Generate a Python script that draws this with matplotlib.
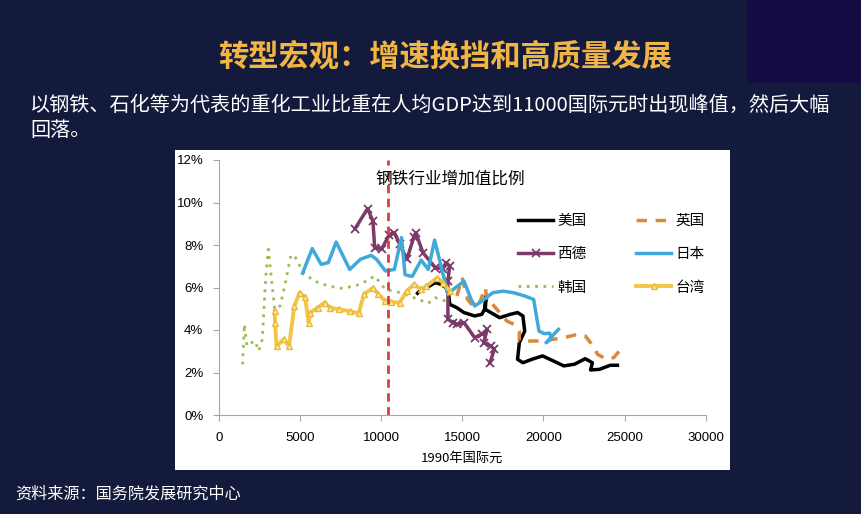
import matplotlib
matplotlib.use("Agg")
import matplotlib.pyplot as plt
from matplotlib.patches import Rectangle

plt.rcParams['font.family'] = ['Noto Sans CJK SC', 'DejaVu Sans']

# data (x: 1990 international dollars, y: share in %)
us_x = [12250, 12470, 12910, 13350, 13680, 14010, 14180, 14230, 14670, 15110, 15770, 16210,
        16430, 16470, 16380, 16760, 17310, 17970, 18410, 18740, 18850, 18520, 18410, 18740,
        19290, 19950, 20600, 21260, 21920, 22580, 23020, 22910, 23460, 24120, 24560]
us_y = [5.73, 5.91, 6.04, 6.23, 6.15, 5.99, 5.60, 5.21, 5.05, 4.82, 4.66, 4.74,
        5.05, 5.60, 4.99, 4.82, 4.58, 4.74, 4.82, 4.66, 3.95, 3.40, 2.62, 2.46,
        2.62, 2.78, 2.55, 2.31, 2.39, 2.65, 2.46, 2.12, 2.15, 2.34, 2.34]

uk_x = [14670, 15000, 15220, 15330, 15660, 15990, 16430, 16540, 16870, 17310, 17750, 18190,
        18520, 18520, 19070, 19950, 20600, 21260, 22140, 22580, 22910, 23350, 23900, 24340, 24670]
uk_y = [5.60, 6.46, 5.75, 5.44, 5.13, 5.13, 5.99, 5.29, 5.21, 4.82, 4.42, 4.27,
        3.95, 3.48, 3.48, 3.48, 3.56, 3.64, 3.80, 3.72, 3.40, 2.85, 2.62, 2.70, 3.01]

de_x = [8400, 9170, 9500, 9610, 10050, 10490, 10820, 11150, 11590, 12030, 12140, 12580,
        13350, 13790, 14010, 14230, 14120, 14120, 14450, 14670, 15110, 15770, 16210, 16540,
        16320, 16760, 16980, 16710]
de_y = [8.77, 9.71, 9.13, 7.87, 7.83, 8.45, 8.58, 8.03, 7.33, 8.39, 8.58, 7.64,
        6.93, 6.89, 7.17, 7.01, 6.31, 4.50, 4.35, 4.27, 4.35, 3.64, 3.80, 4.03,
        3.40, 3.25, 3.09, 2.46]

jp_x = [5168, 5761, 6311, 6751, 7235, 8070, 8730, 9390, 9720, 10270, 10820, 11260, 11480,
        11920, 12470, 12910, 13300, 13680, 14120, 14450, 15110, 15550, 15770, 16210, 16870,
        17530, 18190, 18850, 19400, 19730, 20050, 20390, 20490, 20170, 20930]
jp_y = [6.67, 7.83, 7.09, 7.17, 8.14, 6.85, 7.33, 7.51, 7.33, 6.78, 6.85, 8.35, 6.60,
        6.52, 7.29, 6.85, 8.23, 7.07, 5.68, 5.91, 6.30, 5.44, 5.13, 5.36, 5.75,
        5.83, 5.75, 5.60, 5.44, 3.95, 3.83, 3.85, 3.60, 3.40, 4.03]

kr_x = [1473, 1583, 1737, 2023, 2243, 2463, 2683, 2903, 3057, 3232, 3452, 3782, 4112, 4442,
        4662, 5212, 5871, 6751, 7631, 8730, 9610, 10270, 11150, 12030, 12910, 13350, 14230]
kr_y = [2.38, 4.27, 3.25, 3.40, 3.48, 3.01, 3.56, 6.54, 7.80, 6.54, 4.97, 5.13, 6.23, 7.51,
        7.51, 6.70, 6.31, 6.07, 5.95, 6.15, 6.54, 5.91, 5.76, 5.52, 5.26, 5.52, 5.29]

tw_x = [3452, 3470, 3562, 4002, 4332, 4662, 4992, 5322, 5542, 5652, 6091, 6531, 6861, 7411,
        8070, 8620, 8950, 9500, 9830, 10270, 10600, 11150, 11590, 12030, 12470, 12800,
        13460, 13790, 14230]
tw_y = [4.89, 4.35, 3.25, 3.56, 3.25, 5.13, 5.76, 5.53, 4.35, 4.82, 5.05, 5.29, 5.05, 4.97,
        4.89, 4.78, 5.68, 5.99, 5.68, 5.36, 5.31, 5.29, 5.84, 6.15, 5.92, 6.07,
        6.46, 6.23, 5.84]

peak_x = 10450
x_ticks = [0, 5000, 10000, 15000, 20000, 25000, 30000]
y_ticks = [0, 2, 4, 6, 8, 10, 12]

bg = '#131a3b'
fig = plt.figure(figsize=(8.61, 5.14), dpi=100, facecolor=bg)

# dark block top right and the white chart panel
fig.add_artist(Rectangle((747 / 861, 1 - 83 / 514), 114 / 861, 83 / 514,
                         transform=fig.transFigure, facecolor='#120c42', edgecolor='none', zorder=0))
fig.add_artist(Rectangle((174.5 / 861, 1 - 469.5 / 514), 555.5 / 861, 320 / 514,
                         transform=fig.transFigure, facecolor='white', edgecolor='none', zorder=0))

fig.text(0.517, 1 - 57 / 514, '转型宏观：增速换挡和高质量发展', color='#f0b542',
         fontsize=21.8, fontweight='heavy', ha='center', va='center')
fig.text(30 / 861, 1 - 118 / 514,
         '以钢铁、石化等为代表的重化工业比重在人均GDP达到11000国际元时出现峰值，然后大幅\n回落。',
         color='white', fontsize=14.5, ha='left', va='center', linespacing=1.25)
fig.text(15 / 861, 1 - 494 / 514, '资料来源：国务院发展研究中心', color='white',
         fontsize=11.6, ha='left', va='center')

ax = fig.add_axes([218.7 / 861, 1 - 415 / 514, 487 / 861, 255 / 514])
ax.set_facecolor('none')

ax.plot(us_x, us_y, color='black', lw=2.5, label='美国', solid_joinstyle='round')
ax.plot(de_x, de_y, color='#7b3a68', lw=2.5, marker='x', ms=6, mew=1.3, label='西德')
ax.plot(kr_x, kr_y, color='#9bbb59', lw=2, linestyle=(0, (1, 2)), label='韩国')
ax.plot(uk_x, uk_y, color='#d9893b', lw=2.5, linestyle=(0, (3, 2.5)), label='英国')
ax.plot(jp_x, jp_y, color='#41a9d9', lw=2.5, label='日本', solid_joinstyle='round')
ax.plot(tw_x, tw_y, color='#f4c443', lw=2.8, marker='^', ms=5, mfc='#fbe9a8',
        mec='#e8b93a', label='台湾')
ax.axvline(peak_x, color='#e03a3a', lw=2, linestyle=(0, (3, 2)))

ax.set_xlim(0, 30000)
ax.set_ylim(0, 12)
ax.set_xticks(x_ticks)
ax.set_yticks(y_ticks)
ax.set_yticklabels([f'{v}%' for v in y_ticks])
for sp in ['top', 'right']:
    ax.spines[sp].set_visible(False)
for sp in ['left', 'bottom']:
    ax.spines[sp].set_color('#a6a6a6')
ax.tick_params(colors='#a6a6a6', length=4, labelcolor='black', labelsize=9.5)
ax.tick_params(axis='x', pad=8)
ax.tick_params(axis='y', pad=7)
for lab in ax.get_xticklabels() + ax.get_yticklabels():
    lab.set_family(['Liberation Sans', 'DejaVu Sans'])

ax.set_xlabel('1990年国际元', fontsize=9.5, labelpad=6)
ax.text(0.475, 0.925, '钢铁行业增加值比例', transform=ax.transAxes, ha='center', va='center',
        fontsize=12)

ax.legend(loc='upper left', bbox_to_anchor=(518 / 861, 1 - 214 / 514), bbox_transform=fig.transFigure,
          ncol=2, frameon=False, fontsize=10.5, handlelength=2.4, handletextpad=0.3,
          labelspacing=1.32, columnspacing=3.4, borderpad=0, borderaxespad=0)

fig.savefig('out.png', dpi=100, facecolor=bg)
